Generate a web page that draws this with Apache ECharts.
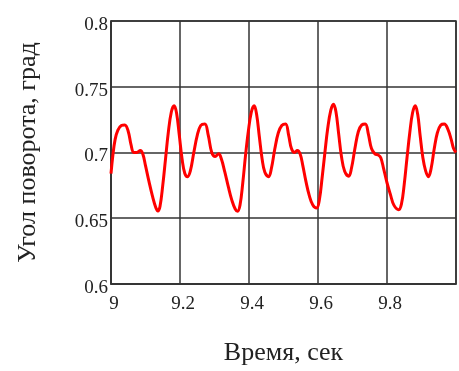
<!DOCTYPE html>
<html>
<head>
<meta charset="utf-8">
<script src="https://cdn.jsdelivr.net/npm/echarts@6/dist/echarts.min.js"></script>
<style>html,body{margin:0;padding:0;background:#fff}#c{width:459px;height:371px}</style>
</head>
<body>
<div id="c"></div>
<script>
const xTitle = "Время, сек";
const yTitle = "Угол поворота, град";
const xTicks = [9, 9.2, 9.4, 9.6, 9.8];
const yTicks = [0.6, 0.65, 0.7, 0.75, 0.8];
const time = [
9.000,9.005,9.012,9.020,9.030,9.040,9.050,9.058,9.066,9.075,9.085,9.092,9.100,9.110,9.120,9.130,9.136,9.142,9.150,9.158,9.166,9.175,9.183,9.190,9.198,9.206,9.214,9.222,9.230,9.240,9.250,9.260,9.272,9.282,9.292,9.302,9.312,9.320,9.330,9.340,9.350,9.360,9.367,9.374,9.382,9.390,9.398,9.407,9.415,9.422,9.430,9.438,9.446,9.457,9.465,9.475,9.485,9.495,9.506,9.515,9.523,9.532,9.540,9.548,9.556,9.565,9.575,9.585,9.596,9.604,9.612,9.620,9.628,9.637,9.645,9.652,9.660,9.668,9.677,9.689,9.697,9.707,9.717,9.727,9.737,9.746,9.755,9.765,9.775,9.782,9.790,9.800,9.810,9.820,9.834,9.842,9.850,9.858,9.866,9.874,9.882,9.889,9.896,9.904,9.912,9.920,9.928,9.937,9.946,9.956,9.966,9.976,9.986,9.993,10.000
];
const angle = [
0.684,0.697,0.710,0.717,0.7205,0.721,0.716,0.706,0.700,0.700,0.7015,0.699,0.690,0.678,0.667,0.658,0.6555,0.659,0.675,0.695,0.715,0.731,0.7355,0.730,0.713,0.695,0.684,0.6816,0.686,0.700,0.713,0.7205,0.7217,0.713,0.700,0.697,0.699,0.695,0.685,0.674,0.664,0.657,0.6553,0.660,0.677,0.698,0.716,0.731,0.7355,0.729,0.712,0.695,0.685,0.6816,0.688,0.703,0.715,0.7205,0.7217,0.713,0.703,0.700,0.7015,0.699,0.690,0.678,0.667,0.660,0.6577,0.664,0.681,0.700,0.718,0.732,0.7367,0.731,0.714,0.697,0.686,0.682,0.688,0.703,0.716,0.721,0.7217,0.714,0.703,0.699,0.698,0.696,0.688,0.677,0.668,0.660,0.6565,0.661,0.676,0.696,0.715,0.730,0.7355,0.729,0.713,0.696,0.686,0.6816,0.688,0.703,0.715,0.721,0.7217,0.718,0.710,0.703,0.700
];
const font = "'Liberation Serif', 'Times New Roman', serif";
const chart = echarts.init(document.getElementById('c'), null, {renderer: 'canvas'});
chart.setOption({
  animation: false,
  grid: {left: 111, top: 21, right: 1, bottom: 84, show: true, borderColor: '#333', borderWidth: 1.5, backgroundColor: '#fff'},
  xAxis: {
    type: 'value', min: 9, max: 10, interval: 0.2,
    name: xTitle, nameLocation: 'middle', nameGap: 56,
    nameTextStyle: {fontFamily: font, fontSize: 26, color: '#222'},
    axisLine: {show: true, lineStyle: {color: '#333', width: 1.5}},
    axisTick: {show: false},
    axisLabel: {fontFamily: font, fontSize: 19, color: '#222', margin: 11, padding: [0,0,0,6],
      formatter: v => xTicks.some(t => Math.abs(t - v) < 1e-6) ? String(+v.toFixed(1)) : ''},
    splitLine: {show: true, lineStyle: {color: '#333', width: 1.5}}
  },
  yAxis: {
    type: 'value', min: 0.6, max: 0.8, interval: 0.05,
    name: yTitle, nameLocation: 'middle', nameGap: 70, nameRotate: 90,
    nameTextStyle: {fontFamily: font, fontSize: 26, color: '#222'},
    axisLine: {show: true, lineStyle: {color: '#333', width: 1.5}},
    axisTick: {show: false},
    axisLabel: {fontFamily: font, fontSize: 19, color: '#222', margin: 3, verticalAlign: 'top', lineHeight: 8,
      formatter: v => { const t = yTicks.find(t => Math.abs(t - v) < 1e-6); return t === undefined ? '' : String(t); }},
    splitLine: {show: true, lineStyle: {color: '#333', width: 1.5}}
  },
  series: [{
    type: 'line',
    data: time.map((t, i) => [t, angle[i]]),
    smooth: 0.4,
    showSymbol: false,
    lineStyle: {color: '#ff0000', width: 3},
    clip: true
  }]
});
</script>
</body>
</html>
